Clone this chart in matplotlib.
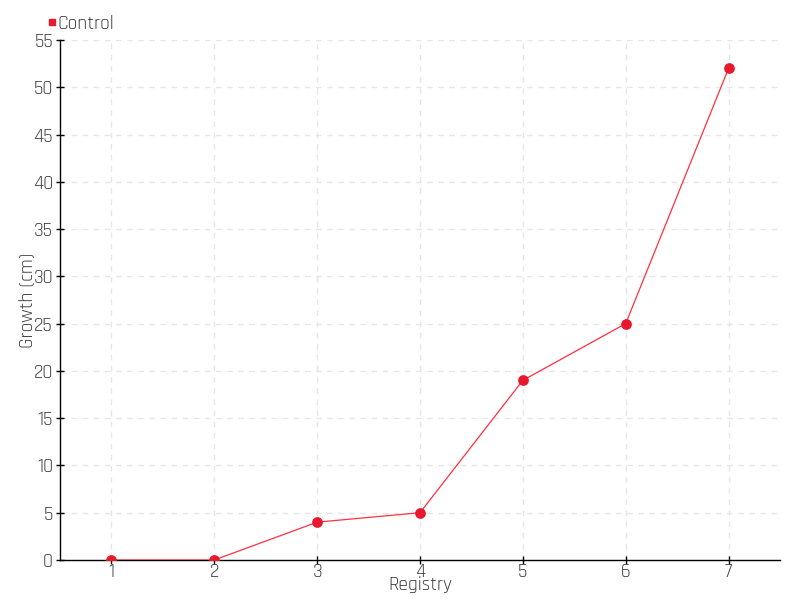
import matplotlib
matplotlib.use("Agg")
import matplotlib.pyplot as plt
from matplotlib.lines import Line2D

registry = [1, 2, 3, 4, 5, 6, 7]
growth = [0, 0, 4, 5, 19, 25, 52]
yticks = list(range(0, 56, 5))

plt.rcParams["font.family"] = ["Rajdhani", "DejaVu Sans"]

text_color = "#444444"
red = "#e8192c"

fig = plt.figure(figsize=(8, 6), dpi=100)
ax = fig.add_axes([0.075, 0.0667, 0.9, 0.8667])

ax.plot(registry, growth, color="#ff3040", linewidth=0.9, zorder=3)
ax.scatter(registry, growth, s=60, color=red, zorder=4, linewidths=0)

ax.set_xlim(0.5, 7.5)
ax.set_ylim(0, 55)
ax.set_xticks(registry)
ax.set_yticks(yticks)
ax.grid(True, color="#e6e6e6", linestyle=(0, (4, 4)), linewidth=1)
ax.set_axisbelow(True)

for s in ["top", "right"]:
    ax.spines[s].set_visible(False)
for s in ["left", "bottom"]:
    ax.spines[s].set_color("black")
    ax.spines[s].set_linewidth(1)

ax.tick_params(axis="both", direction="inout", length=6, width=1, colors="black",
               labelcolor=text_color, labelsize=14)
ax.tick_params(axis="x", pad=-1)
ax.tick_params(axis="y", pad=2)

ax.set_xlabel("Registry", color=text_color, fontsize=14, labelpad=-3)
ax.set_ylabel("Growth (cm)", color=text_color, fontsize=14)
ax.yaxis.set_label_coords(-0.034, 0.5)

handle = Line2D([], [], marker="s", color=red, linestyle="none", markersize=5)
ax.legend([handle], ["Control"], loc="lower left", bbox_to_anchor=(-0.03, 1.0),
          frameon=False, handletextpad=0.0, handlelength=0.6, fontsize=14,
          labelcolor=text_color, borderaxespad=0)

fig.savefig("out.png", dpi=100)
